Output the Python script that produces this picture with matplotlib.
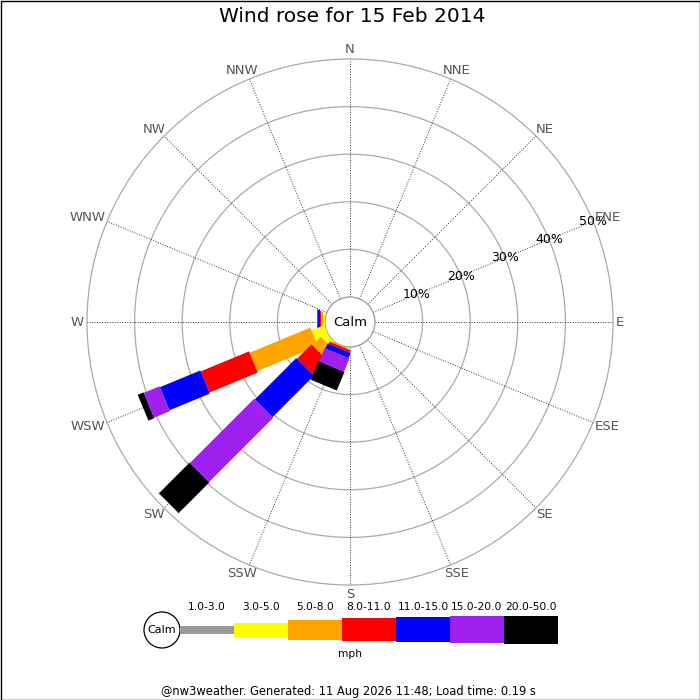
import numpy as np
import matplotlib
matplotlib.use('Agg')
import matplotlib.pyplot as plt
from matplotlib.patches import Polygon, Circle, Rectangle

# ---------------- data ----------------
title = 'Wind rose for 15 Feb 2014'
directions = ['N', 'NNE', 'NE', 'ENE', 'E', 'ESE', 'SE', 'SSE',
              'S', 'SSW', 'SW', 'WSW', 'W', 'WNW', 'NW', 'NNW']
speed_ranges = ['1.0-3.0', '3.0-5.0', '5.0-8.0', '8.0-11.0',
                '11.0-15.0', '15.0-20.0', '20.0-50.0']
#            N  NNE NE ENE E ESE SE SSE S  SSW  SW    WSW   W   WNW NW NNW
pct_1_3   = [0, 0, 0, 0, 0, 0, 0, 0, 0, 0.0, 0.0,  0.0,  0.0, 0, 0, 0]
pct_3_5   = [0, 0, 0, 0, 0, 0, 0, 0, 0, 0.0, 1.3,  2.9,  0.4, 0, 0, 0]
pct_5_8   = [0, 0, 0, 0, 0, 0, 0, 0, 0, 0.2, 2.5,  13.8, 0.4, 0, 0, 0]
pct_8_11  = [0, 0, 0, 0, 0, 0, 0, 0, 0, 0.5, 4.3,  11.0, 0.2, 0, 0, 0]
pct_11_15 = [0, 0, 0, 0, 0, 0, 0, 0, 0, 1.2, 12.3, 9.2,  0.4, 0, 0, 0]
pct_15_20 = [0, 0, 0, 0, 0, 0, 0, 0, 0, 3.0, 19.1, 3.6,  0.2, 0, 0, 0]
pct_20_50 = [0, 0, 0, 0, 0, 0, 0, 0, 0, 4.2, 9.1,  1.3,  0.0, 0, 0, 0]
series = [pct_1_3, pct_3_5, pct_5_8, pct_8_11, pct_11_15, pct_15_20, pct_20_50]
ring_pcts = [10, 20, 30, 40, 50]
calm_label = 'Calm'
unit_label = 'mph'
footer = '@nw3weather. Generated: 11 Aug 2026 11:48; Load time: 0.19 s'

# ---------------- style ----------------
colors = ['#999999', '#ffff00', '#ffa500', '#ff0000', '#0000ff', '#a020f0', '#000000']
bar_w_px = [8, 14, 20, 23, 25, 27, 28]
PX = 4.76            # pixels per percent
CALM = 25 / PX       # calm circle radius in percent units
H = 66               # half axes size in units
CX, CY = 350, 322    # centre in pixels

fig = plt.figure(figsize=(7, 7), dpi=100)
fig.patch.set_facecolor('white')
half = H * PX
ax = fig.add_axes([(CX - half) / 700, (700 - CY - half) / 700, 2 * half / 700, 2 * half / 700])
ax.set_xlim(-H, H)
ax.set_ylim(-H, H)
ax.axis('off')

outer = CALM + max(ring_pcts)
# rings
for p in ring_pcts:
    ax.add_patch(Circle((0, 0), CALM + p, fill=False, ec='#aaaaaa', lw=0.9, zorder=1))
# spokes
for i, d in enumerate(directions):
    th = np.deg2rad(i * 22.5)
    s, c = np.sin(th), np.cos(th)
    ax.plot([CALM * s, outer * s], [CALM * c, outer * c], color='#333333', lw=0.7,
            linestyle=(0, (1, 1.6)), zorder=2)
# calm circle
ax.add_patch(Circle((0, 0), CALM, fc='white', ec='#999999', lw=0.9, zorder=3))
ax.text(0, 0, calm_label, ha='center', va='center', fontsize=9.5, color='black', zorder=10)

# bars (drawn in JpGraph order: E, ENE, NE, ... counter-clockwise)
for i, d in enumerate(directions):
    j = (4 - i) % 16
    th = np.deg2rad(i * 22.5)
    u = np.array([np.sin(th), np.cos(th)])
    n = np.array([np.cos(th), -np.sin(th)])
    start = CALM
    for k, ser in enumerate(series):
        v = ser[i]
        if v <= 0:
            continue
        r0, r1 = start, start + v
        hw = bar_w_px[k] / PX / 2
        pts = [u * r0 + n * hw, u * r1 + n * hw, u * r1 - n * hw, u * r0 - n * hw]
        ax.add_patch(Polygon(pts, closed=True, fc=colors[k], ec='none',
                             zorder=4 + j * 0.01 + k * 0.0001))
        start = r1

# radial labels along ENE spoke
th_l = np.deg2rad(67.5)
for p in ring_pcts:
    r = CALM + p
    ax.text(r * np.sin(th_l), r * np.cos(th_l), f'{p}%', ha='center', va='center',
            fontsize=9, color='black', zorder=11)

# compass labels
anchor = 266 / PX
texts = []
for i, d in enumerate(directions):
    th = np.deg2rad(i * 22.5)
    t = ax.text(anchor * np.sin(th), anchor * np.cos(th), d, ha='center', va='center',
                fontsize=9.5, color='#555555', zorder=11)
    texts.append((t, th))
fig.canvas.draw()
rend = fig.canvas.get_renderer()
for t, th in texts:
    bb = t.get_window_extent(rend)
    p = ax.transData.transform((anchor * np.sin(th), anchor * np.cos(th)))
    cx = p[0] + bb.width / 2 * np.sin(th)
    cy = p[1] + bb.height / 2 * np.cos(th)
    t.set_position(ax.transData.inverted().transform((cx, cy)))

# overlay axes in pixel coords for legend / title / footer
ov = fig.add_axes([0, 0, 1, 1])
ov.set_xlim(0, 700)
ov.set_ylim(700, 0)
ov.axis('off')
ov.patch.set_alpha(0)

ov.text(352, 17, title, ha='center', va='center', fontsize=14.5, color='black')

# legend
ov.add_patch(Circle((162, 630), 18, fc='white', ec='black', lw=0.9))
ov.text(162, 630, calm_label, ha='center', va='center', fontsize=8)
x0, seg_w, yc = 180, 54, 629.5
for k, lab in enumerate(speed_ranges):
    h = bar_w_px[k]
    ov.add_patch(Rectangle((x0 + k * seg_w, yc - h / 2), seg_w, h, fc=colors[k], ec='none'))
    ov.text(x0 + k * seg_w + seg_w / 2, 607, lab, ha='center', va='center', fontsize=7.7)
ov.text(350, 654, unit_label, ha='center', va='center', fontsize=7.7)
ov.text(348, 691, footer, ha='center', va='center', fontsize=8.3)

# frame
ov.add_patch(Rectangle((0.5, 0.5), 699, 699, fill=False, ec='black', lw=1))

fig.savefig('out.png', dpi=100, facecolor='white')
